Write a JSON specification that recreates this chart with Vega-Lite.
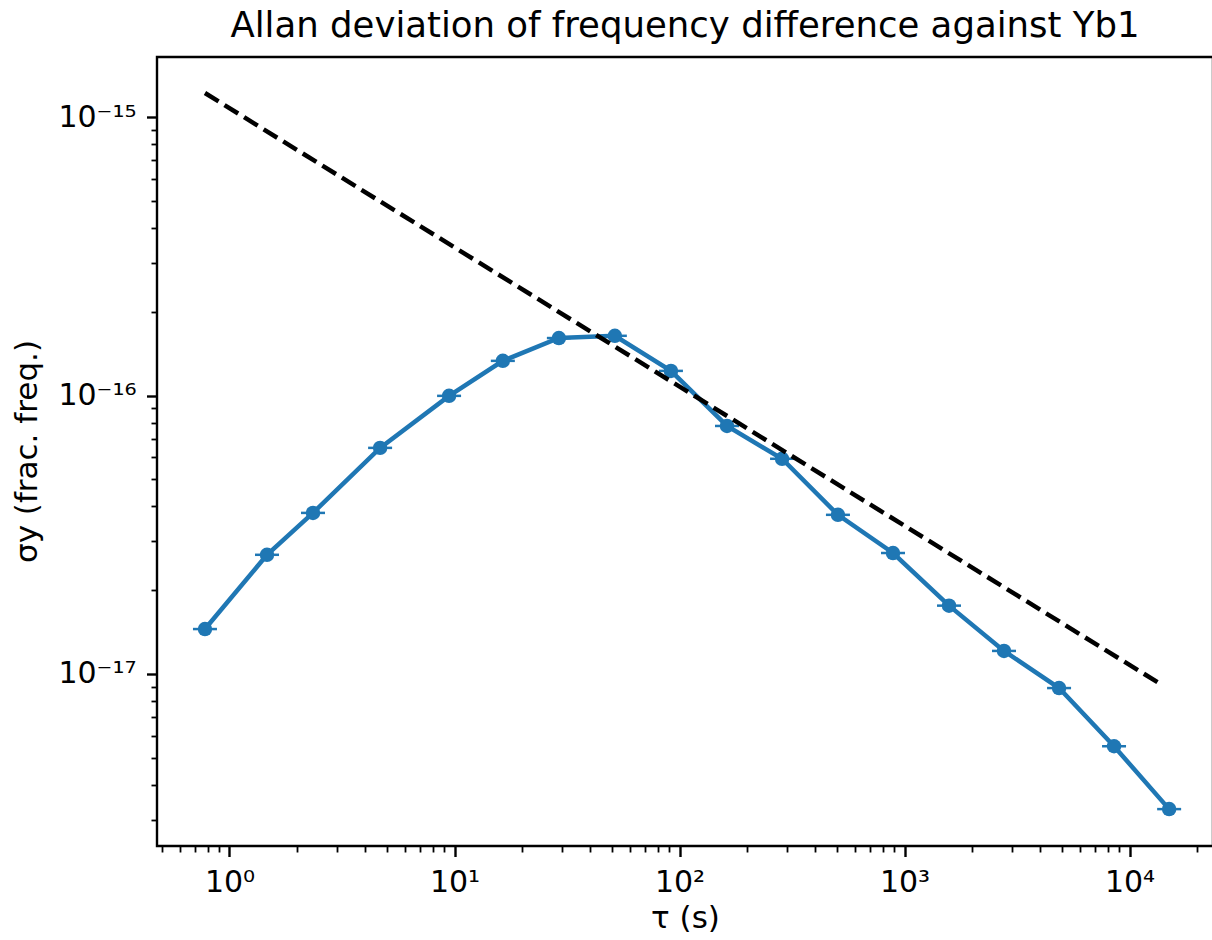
{
  "$schema": "https://vega.github.io/schema/vega-lite/v6.json",
  "width": 1056,
  "height": 789,
  "autosize": "none",
  "padding": {"left": 157, "top": 57, "right": 0, "bottom": 94},
  "background": "white",
  "title": {
    "text": "Allan deviation of frequency difference against Yb1",
    "font": "DejaVu Sans",
    "fontSize": 35.5,
    "fontWeight": "normal",
    "color": "black",
    "anchor": "middle",
    "baseline": "alphabetic",
    "offset": -15
  },
  "datasets": {
    "adev": [
      {"tau": 0.778, "sigma": 1.45e-17},
      {"tau": 1.468, "sigma": 2.68e-17},
      {"tau": 2.35, "sigma": 3.79e-17},
      {"tau": 4.67, "sigma": 6.49e-17},
      {"tau": 9.46, "sigma": 9.98e-17},
      {"tau": 16.4, "sigma": 1.333e-16},
      {"tau": 29.1, "sigma": 1.61e-16},
      {"tau": 51.6, "sigma": 1.64e-16},
      {"tau": 91.6, "sigma": 1.227e-16},
      {"tau": 162.6, "sigma": 7.78e-17},
      {"tau": 285.6, "sigma": 5.93e-17},
      {"tau": 506, "sigma": 3.73e-17},
      {"tau": 889, "sigma": 2.72e-17},
      {"tau": 1577, "sigma": 1.76e-17},
      {"tau": 2768, "sigma": 1.21e-17},
      {"tau": 4863, "sigma": 8.9e-18},
      {"tau": 8536, "sigma": 5.5e-18},
      {"tau": 15000, "sigma": 3.27e-18}
    ],
    "fit": [
      {"tau": 0.778, "sigma": 1.222e-15},
      {"tau": 14060, "sigma": 9.09e-18}
    ]
  },
  "config": {
    "view": {"stroke": "black", "strokeWidth": 2.4},
    "axis": {
      "grid": false,
      "domain": false,
      "labelFont": "DejaVu Sans",
      "labelFontSize": 30,
      "labelColor": "black",
      "labelPadding": 10.5,
      "labelOverlap": false,
      "labelFlush": false,
      "titleFont": "DejaVu Sans",
      "titleFontSize": 31,
      "titleFontWeight": "normal",
      "titleColor": "black",
      "tickColor": "black"
    }
  },
  "layer": [
    {
      "data": {"name": "adev"},
      "mark": {"type": "line", "color": "#1f77b4", "strokeWidth": 4.5},
      "encoding": {
        "x": {
          "field": "tau",
          "type": "quantitative",
          "scale": {"type": "log", "domain": [0.4762, 23500], "nice": false, "zero": false},
          "axis": {
            "title": "τ (s)",
            "titleY": 72,
            "titleBaseline": "middle",
            "values": [0.5, 0.6, 0.7, 0.8, 0.9, 1, 2, 3, 4, 5, 6, 7, 8, 9, 10, 20, 30, 40, 50, 60, 70, 80, 90, 100, 200, 300, 400, 500, 600, 700, 800, 900, 1000, 2000, 3000, 4000, 5000, 6000, 7000, 8000, 9000, 10000, 20000],
            "labelExpr": "datum.value == 1 ? '10⁰' : datum.value == 10 ? '10¹' : datum.value == 100 ? '10²' : datum.value == 1000 ? '10³' : datum.value == 10000 ? '10⁴' : ''",
            "tickSize": {"condition": {"test": "datum.value == 1 || datum.value == 10 || datum.value == 100 || datum.value == 1000 || datum.value == 10000", "value": 10.5}, "value": 6},
            "tickWidth": {"condition": {"test": "datum.value == 1 || datum.value == 10 || datum.value == 100 || datum.value == 1000 || datum.value == 10000", "value": 2.4}, "value": 1.8}
          }
        },
        "y": {
          "field": "sigma",
          "type": "quantitative",
          "scale": {"type": "log", "domain": [2.41e-18, 1.646e-15], "nice": false, "zero": false},
          "axis": {
            "title": "σy (frac. freq.)",
            "titleX": -129.5,
            "titleY": 394,
            "titleBaseline": "middle",
            "values": [3e-18, 4e-18, 5e-18, 6e-18, 7e-18, 8e-18, 9e-18, 1e-17, 2e-17, 3e-17, 4e-17, 5e-17, 6e-17, 7e-17, 8e-17, 9e-17, 1e-16, 2e-16, 3e-16, 4e-16, 5e-16, 6e-16, 7e-16, 8e-16, 9e-16, 1e-15],
            "labelExpr": "datum.value == 1e-15 ? '10⁻¹⁵' : datum.value == 1e-16 ? '10⁻¹⁶' : datum.value == 1e-17 ? '10⁻¹⁷' : ''",
            "tickSize": {"condition": {"test": "datum.value == 1e-15 || datum.value == 1e-16 || datum.value == 1e-17", "value": 10.5}, "value": 6},
            "tickWidth": {"condition": {"test": "datum.value == 1e-15 || datum.value == 1e-16 || datum.value == 1e-17", "value": 2.4}, "value": 1.8}
          }
        }
      }
    },
    {
      "data": {"name": "adev"},
      "mark": {"type": "tick", "orient": "horizontal", "color": "#1f77b4", "size": 24, "thickness": 2.5, "opacity": 1},
      "encoding": {
        "x": {"field": "tau", "type": "quantitative"},
        "y": {"field": "sigma", "type": "quantitative"}
      }
    },
    {
      "data": {"name": "adev"},
      "mark": {"type": "circle", "color": "#1f77b4", "size": 210, "opacity": 1},
      "encoding": {
        "x": {"field": "tau", "type": "quantitative"},
        "y": {"field": "sigma", "type": "quantitative"}
      }
    },
    {
      "data": {"name": "fit"},
      "mark": {"type": "line", "color": "black", "strokeWidth": 4.5, "strokeDash": [16, 7]},
      "encoding": {
        "x": {"field": "tau", "type": "quantitative"},
        "y": {"field": "sigma", "type": "quantitative"}
      }
    }
  ]
}
